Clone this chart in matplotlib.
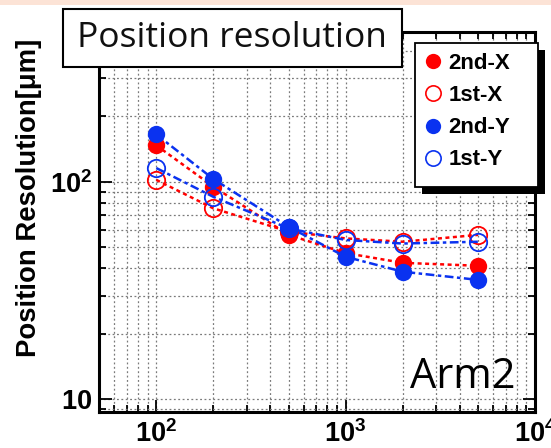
import matplotlib
matplotlib.use("Agg")
import matplotlib.pyplot as plt
from matplotlib.lines import Line2D
from matplotlib.patches import Rectangle
from matplotlib.ticker import LogLocator, NullFormatter

# ---- data -------------------------------------------------------------
x_vals = [100, 200, 500, 1000, 2000, 5000]
series_names = ["2nd-X", "1st-X", "2nd-Y", "1st-Y"]
res_2nd_x = [147, 95, 57, 47, 42.4, 41.1]
res_1st_x = [102, 75.5, 59, 54.9, 53, 57]
res_2nd_y = [165, 103, 62, 45.2, 38.6, 35.4]
res_1st_y = [115.6, 85.3, 61, 54, 52, 53]
x_tick_vals = [100, 1000, 10000]
x_tick_labels = [r"$\mathbf{10^{2}}$", r"$\mathbf{10^{3}}$", r"$\mathbf{10^{4}}$"]
y_tick_vals = [10, 100]
y_tick_labels = [r"$\mathbf{10}$", r"$\mathbf{10^{2}}$"]
title_text = "Position resolution"
ylabel_text = "Position Resolution[μm]"
corner_text = "Arm2"

plt.rcParams["mathtext.fontset"] = "custom"
plt.rcParams["mathtext.rm"] = "Liberation Sans"
plt.rcParams["mathtext.bf"] = "Liberation Sans:bold"

W, H = 551, 448
fig = plt.figure(figsize=(W / 100, H / 100), dpi=100)

def fx(px):
    return px / W

def fy(py):
    return 1 - py / H

# axes box in pixels: left 99.3, right 535, top 32, bottom 411.7
ax = fig.add_axes([fx(99.3), fy(411.7), fx(535) - fx(99.3), fy(32) - fy(411.7)])
ax.set_xscale("log")
ax.set_yscale("log")
ax.set_xlim(50, 10000)
ax.set_ylim(8.77, 488)

RED = "#ff0000"
BLUE = "#0a32f0"
styles = [
    dict(color=RED, mfc=RED, ls=(0, (1.6, 1.4))),
    dict(color=RED, mfc="none", ls=(0, (1.6, 1.4))),
    dict(color=BLUE, mfc=BLUE, ls=(0, (3.5, 1.4, 1.4, 1.4))),
    dict(color=BLUE, mfc="none", ls=(0, (3.5, 1.4, 1.4, 1.4))),
]
all_series = [res_2nd_x, res_1st_x, res_2nd_y, res_1st_y]
handles = []
for name, vals, st in zip(series_names, all_series, styles):
    filled = st["mfc"] != "none"
    ax.plot(x_vals, vals, ls=st["ls"], color=st["color"], lw=1.8,
            marker="o", ms=12.5, mfc=st["mfc"],
            mec=st["color"], mew=0 if filled else 1.3, zorder=3)
    handles.append(Line2D([], [], ls="none", marker="o", ms=11,
                          mfc=st["mfc"], mec=st["color"],
                          mew=0 if filled else 1.2, label=name))

# ticks and grid
ax.set_xticks(x_tick_vals, labels=x_tick_labels)
ax.set_yticks(y_tick_vals, labels=y_tick_labels)
ax.xaxis.set_minor_locator(LogLocator(base=10, subs=range(2, 10)))
ax.yaxis.set_minor_locator(LogLocator(base=10, subs=range(2, 10)))
ax.xaxis.set_minor_formatter(NullFormatter())
ax.yaxis.set_minor_formatter(NullFormatter())
ax.tick_params(which="both", direction="in", top=True, right=True,
               width=1.3, color="black")
ax.tick_params(which="major", length=9)
ax.tick_params(which="minor", length=5)
ax.tick_params(axis="x", which="major", labelsize=19.5, pad=6)
ax.tick_params(axis="y", which="major", labelsize=19.5, pad=5)
ax.grid(True, which="both", color="#7a7a7a", lw=0.9, ls=(0, (1.5, 2.0)))
for sp in ax.spines.values():
    sp.set_linewidth(2.2)
    sp.set_color("black")

ax.set_ylabel(ylabel_text, fontsize=19.8, fontweight="bold",
              family="Liberation Sans")
ax.yaxis.label.set_va("center")
ax.yaxis.set_label_coords((29 - 99.3) / (535 - 99.3), (411.7 - 197.5) / (411.7 - 32))

# pink band at top
fig.add_artist(Rectangle((0, fy(5.5)), 1, 1 - fy(5.5), transform=fig.transFigure,
                         facecolor="#fce3d6", edgecolor="none", zorder=-1))

# title box
fig.add_artist(Rectangle((fx(62.5), fy(67.5)), fx(401.7) - fx(62.5), fy(8.8) - fy(67.5),
                         transform=fig.transFigure, facecolor="white",
                         edgecolor="black", lw=1.5, zorder=5))
fig.text(fx(232), fy(38), title_text, fontsize=25.5, family="Open Sans",
         ha="center", va="center", color="#101010", zorder=6)

# legend box with shadow
fig.add_artist(Rectangle((fx(422), fy(194)), fx(545) - fx(422), fy(50) - fy(194),
                         transform=fig.transFigure, facecolor="black",
                         edgecolor="none", zorder=5))
fig.add_artist(Rectangle((fx(415), fy(187)), fx(538) - fx(415), fy(43) - fy(187),
                         transform=fig.transFigure, facecolor="white",
                         edgecolor="black", lw=1.3, zorder=6))
leg = fig.legend(handles=handles, loc="upper left",
                 bbox_to_anchor=(fx(413), fy(42)), frameon=False,
                 prop=dict(family="Liberation Sans", weight="bold", size=16),
                 handlelength=0.8, handletextpad=0.3, labelspacing=0.5,
                 borderpad=0.5, borderaxespad=0)
leg.set_zorder(7)

# Arm2 label
ax.text(fx(515), fy(388), corner_text, transform=fig.transFigure,
        fontsize=30, family="Open Sans", ha="right", va="baseline", zorder=6)

fig.savefig("out.png", dpi=100)
